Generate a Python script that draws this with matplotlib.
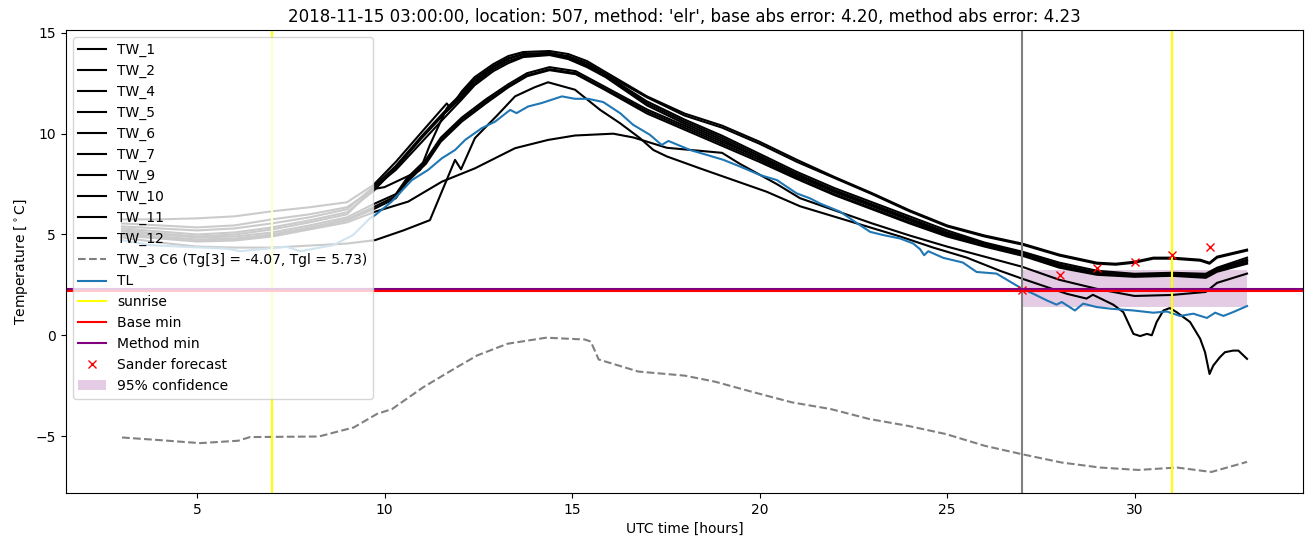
import matplotlib
matplotlib.use("Agg")
import matplotlib.pyplot as plt

# ---------------- data (hours UTC, temperature degC) ----------------
grey_h = [3, 4, 5, 6, 7, 8, 9]

tw1_h = grey_h + [9.7, 10.3, 11.0, 11.66, 11.75, 12.06, 12.4, 12.9, 13.3, 13.7, 14.4, 14.9, 15.4, 15.9, 17, 18, 19, 20, 21, 22, 23, 24, 25, 26, 27, 28, 29, 29.5, 30, 30.5, 31, 31.75, 32.0, 32.2, 33]
tw1_t = [5.75, 5.75, 5.8, 5.9, 6.15, 6.35, 6.6, 7.45, 8.6, 10.1, 11.5, 11.27, 12.1, 12.8, 13.45, 13.85, 14.05, 14.1, 13.95, 13.6, 13.05, 11.85, 11.0, 10.4, 9.6, 8.7, 7.85, 7.05, 6.2, 5.45, 4.95, 4.55, 4.0, 3.6, 3.55, 3.65, 3.85, 3.85, 3.75, 3.6, 3.9, 4.25]

tw2_h = grey_h + [9.7, 10.0, 10.86, 10.95, 11.2, 11.66, 12.06, 12.4, 12.9, 13.3, 13.7, 14.4, 14.9, 15.4, 15.9, 17, 18, 19, 20, 21, 22, 23, 24, 25, 26, 27, 28, 29, 29.5, 30, 30.5, 31, 31.75, 32.0, 32.2, 33]
tw2_t = [5.55, 5.45, 5.35, 5.45, 5.75, 6.0, 6.35, 7.25, 7.35, 8.1, 8.2, 9.4, 11.27, 12.0, 12.7, 13.35, 13.75, 13.95, 14.0, 13.85, 13.5, 12.95, 11.8, 10.9, 10.3, 9.5, 8.6, 7.8, 7.0, 6.15, 5.4, 4.9, 4.5, 3.95, 3.55, 3.5, 3.6, 3.8, 3.8, 3.7, 3.55, 3.85, 4.2]

a_h = grey_h + [9.7, 10.3, 11.0, 11.6, 12.06, 12.4, 12.9, 13.3, 13.7, 14.4, 14.9, 15.4, 15.9, 17, 18, 19, 20, 21, 22, 23, 24, 25, 26, 27, 28, 29, 30, 31, 31.9, 32.2, 33]
tw4_t = [5.4, 5.3, 5.2, 5.3, 5.55, 5.85, 6.25, 7.35, 8.4, 9.9, 11.1, 11.9, 12.6, 13.3, 13.7, 13.95, 14.0, 13.8, 13.4, 12.9, 11.6, 10.7, 9.9, 9.0, 8.1, 7.3, 6.6, 5.9, 5.2, 4.6, 4.15, 3.6, 3.2, 3.05, 3.1, 3.05, 3.35, 3.85]
tw5_t = [5.3, 5.15, 5.0, 5.1, 5.35, 5.7, 6.1, 7.15, 8.3, 9.8, 11.0, 11.8, 12.5, 13.2, 13.6, 13.85, 13.95, 13.75, 13.35, 12.85, 11.5, 10.6, 9.8, 8.9, 8.0, 7.2, 6.5, 5.8, 5.1, 4.55, 4.05, 3.5, 3.1, 3.0, 3.05, 3.0, 3.3, 3.75]
tw6_t = [5.2, 5.05, 4.9, 5.0, 5.25, 5.6, 6.0, 7.3, 8.2, 9.6, 10.8, 11.7, 12.4, 13.1, 13.5, 13.8, 13.9, 13.7, 13.3, 12.8, 11.4, 10.5, 9.7, 8.8, 7.9, 7.15, 6.45, 5.75, 5.05, 4.5, 4.0, 3.45, 3.05, 2.95, 3.0, 2.95, 3.25, 3.7]

b_h = grey_h + [9.7, 10.3, 10.6, 11.1, 11.5, 12.06, 12.7, 13.3, 13.8, 14.4, 15.1, 15.9, 17, 18, 19, 20, 21, 22, 23, 24, 25, 26, 27, 28, 29, 30, 31, 31.9, 32.2, 33]
tw7_t = [5.15, 5.0, 4.85, 4.9, 5.1, 5.45, 5.85, 6.5, 7.0, 7.8, 8.7, 9.8, 10.8, 11.7, 12.45, 13.0, 13.3, 13.1, 12.3, 11.2, 10.4, 9.6, 8.8, 7.9, 7.1, 6.4, 5.7, 5.0, 4.5, 4.1, 3.5, 3.1, 3.0, 3.05, 2.95, 3.3, 3.7]
tw9_t = [5.05, 4.9, 4.75, 4.8, 5.0, 5.35, 5.75, 6.35, 6.9, 7.7, 8.6, 9.7, 10.7, 11.6, 12.35, 12.9, 13.2, 13.0, 12.2, 11.1, 10.3, 9.5, 8.7, 7.8, 7.0, 6.3, 5.6, 4.95, 4.45, 4.0, 3.4, 3.05, 2.95, 3.0, 2.9, 3.2, 3.6]
tw10_t = [5.0, 4.85, 4.7, 4.75, 4.95, 5.3, 5.7, 6.25, 6.8, 7.6, 8.5, 9.6, 10.6, 11.5, 12.3, 12.85, 13.15, 12.95, 12.15, 11.0, 10.2, 9.4, 8.6, 7.75, 6.95, 6.25, 5.55, 4.9, 4.4, 3.95, 3.35, 3.0, 2.9, 2.95, 2.85, 3.15, 3.55]

tw11_h = grey_h + [9.75, 10.5, 11.21, 11.88, 12.04, 12.41, 13.0, 13.48, 14.0, 14.36, 15.08, 15.75, 16.28, 16.81, 17.17, 17.53, 18.41, 19.3, 20.19, 21.08, 21.97, 22.86, 23.75, 24.63, 25.53, 26.41, 27, 28.19, 28.72, 28.89, 29.43, 29.7, 29.97, 30.15, 30.33, 30.46, 30.59, 30.77, 30.94, 31.12, 31.48, 31.75, 31.88, 32.0, 32.1, 32.28, 32.41, 32.63, 32.77, 33]
tw11_t = [4.85, 4.6, 4.4, 4.35, 4.35, 4.45, 4.55, 4.72, 5.2, 5.71, 8.7, 8.23, 9.78, 10.9, 11.85, 12.3, 12.55, 12.18, 11.18, 10.52, 9.78, 9.19, 8.87, 8.28, 7.7, 7.12, 6.4, 5.9, 5.4, 4.9, 4.35, 3.85, 3.2, 2.81, 2.06, 1.82, 2.01, 1.52, 1.15, 0.07, -0.04, 0.07, 0.0, 0.66, 1.23, 1.35, 1.15, 0.66, -0.17, -0.84, -1.92, -1.5, -1.08, -0.84, -0.76, -0.76, -1.17]

tw12_h = grey_h + [9.75, 10.63, 11.53, 12.41, 13.48, 14.36, 15.08, 16.1, 16.64, 17.53, 18.41, 19.0, 19.48, 20.46, 21.08, 22, 23, 24, 25, 26, 27, 28, 29, 30, 31, 31.9, 32.2, 33]
tw12_t = [4.95, 4.8, 4.65, 4.7, 4.9, 5.25, 5.6, 6.13, 6.63, 7.62, 8.28, 9.28, 9.69, 9.91, 10.0, 9.81, 9.3, 9.15, 9.05, 8.5, 7.5, 6.8, 6.2, 5.55, 4.95, 4.4, 3.9, 3.4, 2.75, 2.3, 1.95, 2.0, 2.15, 2.6, 3.06]

tw_names = ["TW_1", "TW_2", "TW_4", "TW_5", "TW_6", "TW_7", "TW_9", "TW_10", "TW_11", "TW_12"]
tw_hours = [tw1_h, tw2_h, a_h, a_h, a_h, b_h, b_h, b_h, tw11_h, tw12_h]
tw_temps = [tw1_t, tw2_t, tw4_t, tw5_t, tw6_t, tw7_t, tw9_t, tw10_t, tw11_t, tw12_t]

tw3_h = [3.0, 4.0, 5.08, 6.1, 6.41, 8.25, 9.18, 9.8, 10.2, 11.03, 11.85, 12.47, 13.28, 14.31, 15.34, 15.5, 15.71, 16.77, 18.0, 18.81, 19.85, 20.87, 21.9, 22.92, 23.95, 24.97, 26.0, 27.0, 28.05, 29.08, 30.1, 31.13, 32.05, 33.0]
tw3_t = [-5.07, -5.2, -5.35, -5.23, -5.05, -5.02, -4.57, -3.9, -3.66, -2.58, -1.67, -1.0, -0.42, -0.12, -0.21, -0.31, -1.2, -1.8, -2.0, -2.3, -2.83, -3.33, -3.66, -4.15, -4.49, -4.9, -5.48, -5.9, -6.31, -6.56, -6.68, -6.56, -6.78, -6.28]

tl_h = [3, 3.75, 4.63, 5.79, 6.15, 6.59, 7.39, 7.75, 8.63, 9.16, 9.61, 9.75, 10.19, 10.73, 11.16, 11.53, 11.88, 12.15, 12.59, 12.95, 13.35, 13.52, 13.83, 14.19, 14.73, 15.08, 15.43, 15.83, 16.28, 16.63, 17.08, 17.39, 17.57, 18.15, 18.59, 19.04, 19.48, 20.01, 20.46, 20.99, 21.35, 21.61, 22.15, 22.68, 22.95, 23.3, 23.75, 24.1, 24.28, 24.39, 24.5, 24.9, 25.42, 25.79, 26.32, 26.69, 27.0, 27.3, 27.66, 27.92, 28.06, 28.41, 28.63, 28.99, 29.35, 29.97, 30.5, 30.86, 31.21, 31.57, 31.93, 32.15, 32.37, 32.63, 33.0]
tl_t = [4.72, 4.47, 4.39, 4.3, 4.17, 4.25, 4.39, 4.17, 4.47, 4.97, 5.8, 5.96, 6.63, 7.7, 8.2, 8.78, 9.19, 9.69, 10.27, 10.6, 11.18, 11.02, 11.35, 11.52, 11.85, 11.73, 11.73, 11.57, 11.02, 10.44, 9.94, 9.44, 9.64, 9.19, 8.95, 8.7, 8.37, 7.95, 7.7, 7.04, 6.79, 6.54, 6.13, 5.46, 5.13, 4.97, 4.8, 4.55, 4.27, 3.97, 4.17, 3.84, 3.61, 3.14, 3.06, 2.65, 2.31, 2.06, 1.73, 1.52, 1.65, 1.23, 1.57, 1.4, 1.32, 1.23, 1.12, 1.18, 0.96, 1.07, 0.86, 1.12, 0.96, 1.15, 1.45]

sunrise_hours = [7, 31]
forecast_hour = 27
base_min = 2.19
method_min = 2.28
sander_h = [27, 28, 29, 30, 31, 32]
sander_t = [2.25, 3.0, 3.33, 3.63, 3.98, 4.36]
conf_h = [27, 33]
conf_low = [1.38, 1.38]
conf_high = [3.25, 3.25]

title = ("2018-11-15 03:00:00, location: 507, method: 'elr', "
         "base abs error: 4.20, method abs error: 4.23")

# ---------------- plot ----------------
fig = plt.figure(figsize=(13.13, 5.47), dpi=100)
ax = fig.add_axes([0.0501, 0.0987, 0.9425, 0.8465])

for name, hh, tt in zip(tw_names, tw_hours, tw_temps):
    ax.plot(hh, tt, color="black", label=name)
ax.plot(tw3_h, tw3_t, color="grey", linestyle="--",
        label="TW_3 C6 (Tg[3] = -4.07, Tgl = 5.73)")
ax.plot(tl_h, tl_t, color="C0", label="TL")
ax.axvline(sunrise_hours[0], color="yellow", label="sunrise")
for s in sunrise_hours[1:]:
    ax.axvline(s, color="yellow")
ax.axvline(forecast_hour, color="grey")
ax.axhline(method_min, color="purple", label="Method min", zorder=2.1)
ax.axhline(base_min, color="red", label="Base min", zorder=2.2)
ax.plot(sander_h, sander_t, "x", color="red", label="Sander forecast")
ax.fill_between(conf_h, conf_low, conf_high, color="purple", alpha=0.2,
                linewidth=0, label="95% confidence")

ax.set_title(title)
ax.set_xlabel("UTC time [hours]")
ax.set_ylabel(r"Temperature [$^\circ$C]")

handles, labels = ax.get_legend_handles_labels()
order = labels.index("Base min"), labels.index("Method min")
h_list = list(handles)
l_list = list(labels)
h_list[order[0]], h_list[order[1]] = handles[order[1]], handles[order[0]]
l_list[order[0]], l_list[order[1]] = labels[order[1]], labels[order[0]]
ax.legend(h_list, l_list, loc="upper left")

fig.savefig("out.png", dpi=100)
